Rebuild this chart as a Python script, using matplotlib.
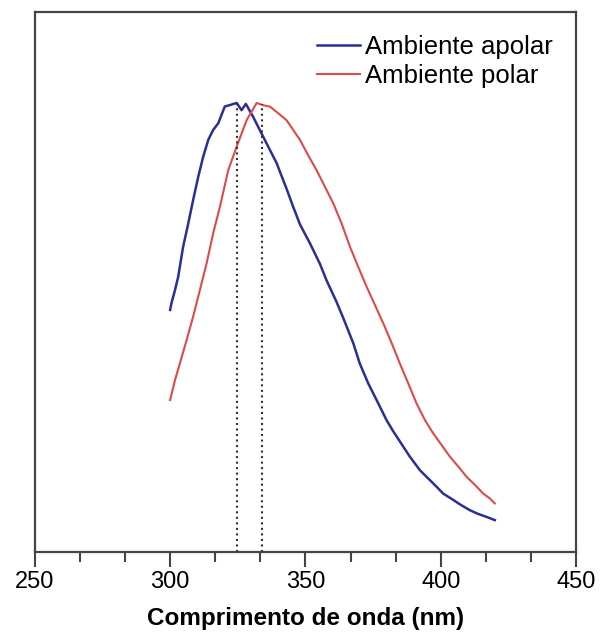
import matplotlib
matplotlib.use("Agg")
import matplotlib.pyplot as plt

plt.rcParams['font.family'] = ['Liberation Sans', 'DejaVu Sans']

# wavelengths (nm) and normalised intensity
apolar_wl = [300.0, 300.5, 301.8, 303.0, 304.8, 306.7, 308.5, 310.4, 312.2, 314.1,
             315.9, 317.8, 320.2, 324.6, 326.4, 328.0, 330.7, 334.4, 339.4, 340.6,
             343.0, 345.5, 348.0, 351.7, 355.4, 357.8, 361.5, 364.0, 367.7, 370.1,
             373.2, 376.3, 380.0, 382.5, 386.2, 388.6, 392.3, 394.8, 398.5, 400.9,
             404.6, 407.1, 410.8, 413.3, 417.0, 420.0]
apolar_int = [0.538, 0.553, 0.582, 0.612, 0.678, 0.730, 0.782, 0.834, 0.878, 0.916,
              0.938, 0.953, 0.990, 0.998, 0.982, 0.996, 0.967, 0.923, 0.864, 0.845,
              0.808, 0.767, 0.728, 0.686, 0.640, 0.604, 0.556, 0.520, 0.464, 0.419,
              0.375, 0.338, 0.293, 0.268, 0.234, 0.212, 0.182, 0.167, 0.145, 0.130,
              0.116, 0.106, 0.093, 0.086, 0.078, 0.071]

polar_wl = [300.0, 301.8, 303.6, 306.1, 308.5, 311.0, 313.5, 315.9, 318.4, 321.5,
            324.6, 328.3, 332.0, 334.4, 336.9, 340.0, 343.0, 348.0, 351.0, 354.1,
            357.2, 360.3, 363.4, 366.5, 369.5, 372.6, 375.7, 378.8, 381.9, 384.9,
            388.0, 391.1, 394.2, 397.2, 400.3, 403.4, 406.5, 409.6, 412.7, 415.7,
            418.2, 420.0]
polar_int = [0.338, 0.382, 0.419, 0.471, 0.523, 0.582, 0.642, 0.708, 0.767, 0.849,
             0.901, 0.960, 0.998, 0.993, 0.990, 0.975, 0.960, 0.916, 0.882, 0.849,
             0.812, 0.775, 0.730, 0.678, 0.634, 0.590, 0.549, 0.508, 0.464, 0.419,
             0.375, 0.330, 0.293, 0.264, 0.238, 0.212, 0.190, 0.167, 0.149, 0.130,
             0.119, 0.108]

peak_wl = [324.6, 333.8]
peak_int = [0.998, 0.995]

fig = plt.figure(figsize=(6, 6.36), dpi=100)
ax = fig.add_axes([0.058, 0.132, 0.902, 0.849])

ax.plot(apolar_wl, apolar_int, color='#2b2f93', lw=1.8, label='Ambiente apolar')
ax.plot(polar_wl, polar_int, color='#de4a4a', lw=1.5, label='Ambiente polar')

for wl, top in zip(peak_wl, peak_int):
    ax.plot([wl, wl], [0, top], color='#333333', ls=':', lw=1.5)

ax.set_xlim(250, 450)
ax.set_ylim(0, 1.2)
ax.set_xticks([250, 300, 350, 400, 450])
ax.set_xticks([266.67, 283.33, 316.67, 333.33, 366.67, 383.33, 416.67, 433.33], minor=True)
ax.set_yticks([])
ax.tick_params(axis='x', which='major', direction='out', length=11, width=1.5,
               labelsize=17, color='#444444', pad=3)
ax.tick_params(axis='x', which='minor', direction='out', length=7, width=1.5, color='#444444')
for s in ax.spines.values():
    s.set_color('#444444')
    s.set_linewidth(1.6)

ax.set_xlabel('Comprimento de onda (nm)', fontsize=17.5, fontweight='bold', labelpad=10)

ax.legend(loc='upper right', frameon=False, fontsize=18.5, handlelength=1.65,
          handletextpad=0.2, labelspacing=0.22, borderaxespad=0.2,
          bbox_to_anchor=(0.985, 0.987))

fig.savefig('out.png', dpi=100)
